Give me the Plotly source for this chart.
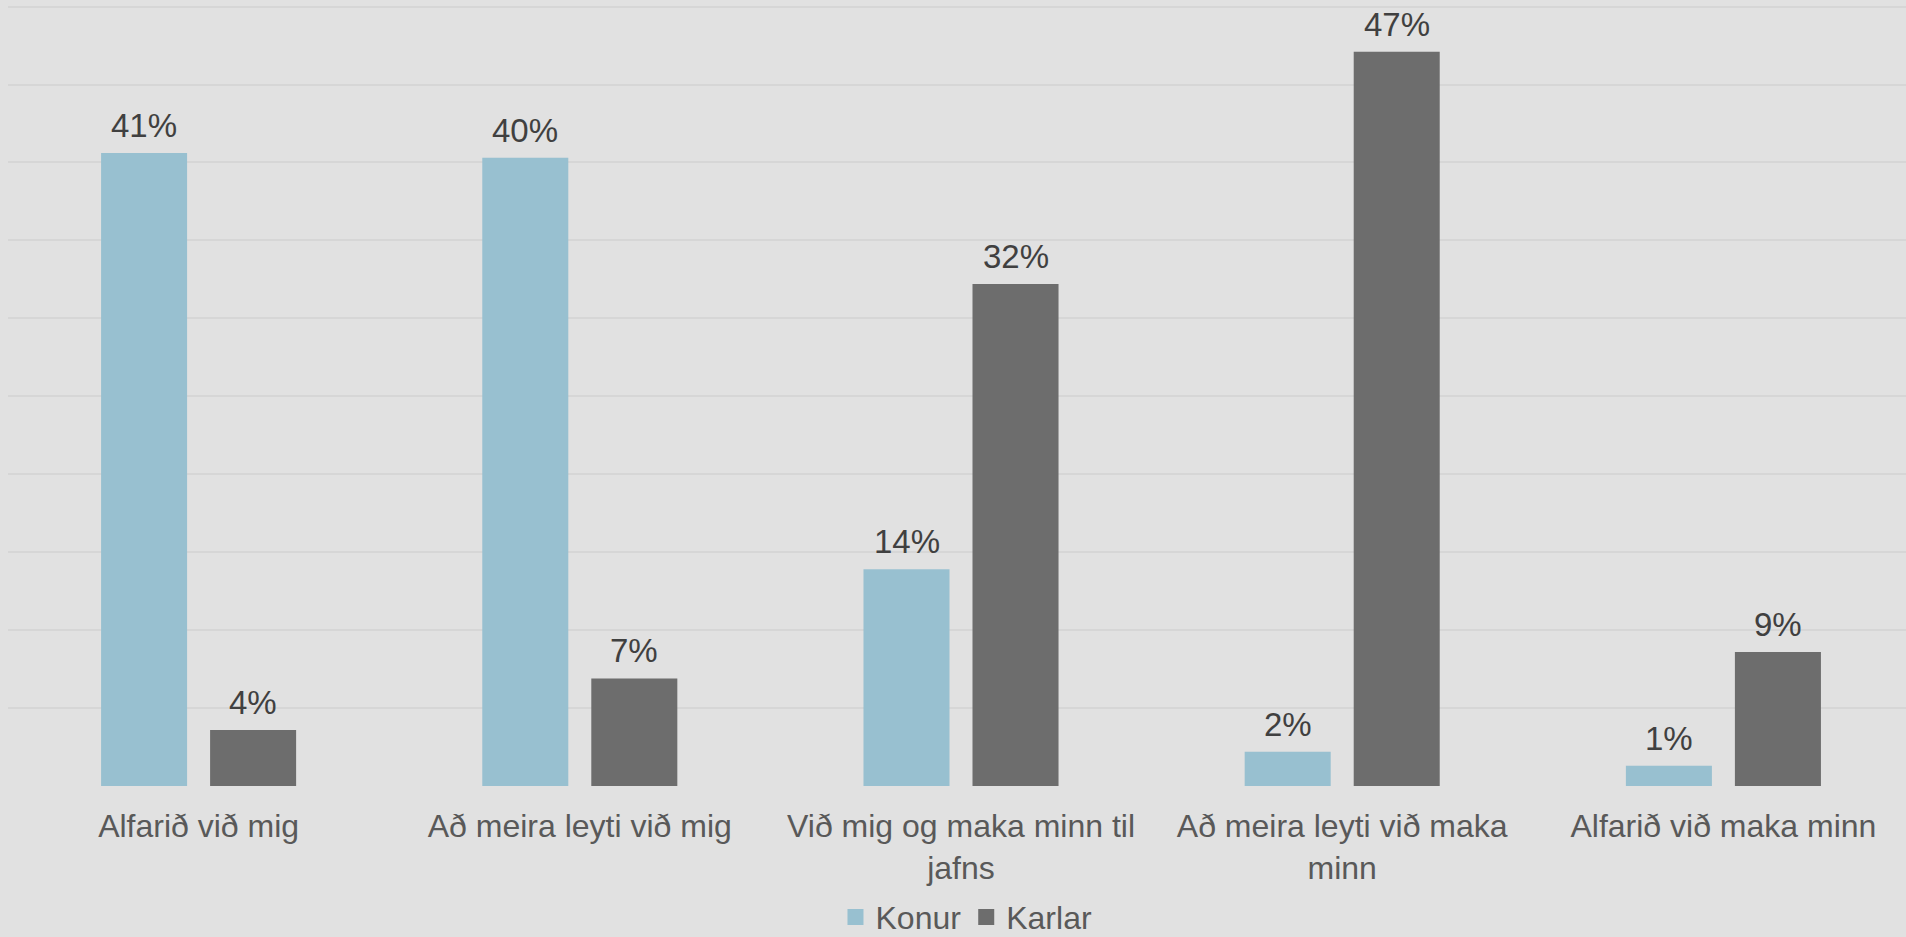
import plotly.graph_objects as go

categories = ["Alfarið við mig", "Að meira leyti við mig",
              "Við mig og maka minn til<br>jafns", "Að meira leyti við maka<br>minn",
              "Alfarið við maka minn"]
konur = [40.6, 40.3, 13.9, 2.2, 1.3]
karlar = [3.6, 6.9, 32.2, 47.1, 8.6]
series_names = ["Konur", "Karlar"]
colors = ["#98c0d0", "#6d6d6d"]

FONT = "Liberation Sans, Arial, sans-serif"
W, H = 1906, 937

fig = go.Figure()
for name, vals, col in zip(series_names, [konur, karlar], colors):
    fig.add_trace(go.Bar(x=categories, y=vals, name=name, marker_color=col,
                         marker_line_width=0, hoverinfo="skip", showlegend=False))
# legend entries with square swatches
for name, col in zip(series_names, colors):
    fig.add_trace(go.Scatter(x=[None], y=[None], mode="markers", name=name,
                             marker=dict(symbol="square", size=16, color=col),
                             showlegend=True))

# data labels above bars
slot_half = 54.5
for vals, sh in [(konur, -slot_half), (karlar, slot_half)]:
    for c, v in zip(categories, vals):
        fig.add_annotation(x=c, y=v, text=f"{round(v):d}%", showarrow=False,
                           xref="x", yref="y", xshift=sh, yanchor="bottom", yshift=7,
                           font=dict(family=FONT, size=33, color="#404040"))

fig.update_layout(
    width=W, height=H,
    margin=dict(l=8, r=0, t=5, b=151, autoexpand=False),
    paper_bgcolor="#e1e1e1", plot_bgcolor="#e1e1e1",
    barmode="group", bargap=0.428, bargroupgap=0.211,
    font=dict(family=FONT, size=32, color="#595959"),
    showlegend=True,
    legend=dict(orientation="h", x=0.505, xanchor="center", y=-0.168, yanchor="middle",
                font=dict(family=FONT, size=32, color="#595959"),
                itemwidth=30, tracegroupgap=0,
                itemsizing="trace", traceorder="normal", bgcolor="rgba(0,0,0,0)"),
    xaxis=dict(range=[-0.5, 4.479], showgrid=False, showline=False, zeroline=False,
               ticks="outside", ticklen=12, tickcolor="rgba(0,0,0,0)", automargin=False,
               tickfont=dict(family=FONT, size=32, color="#595959"), fixedrange=True),
    yaxis=dict(range=[0, 50.1], tick0=0, dtick=5, showgrid=True, gridcolor="#d6d6d6", gridwidth=2,
               automargin=False,
               showticklabels=False, zeroline=False, showline=False, fixedrange=True),
)
fig.write_html("out.html", config={"displayModeBar": False},
               post_script="document.body.style.margin='0';document.body.style.overflow='hidden';document.body.style.background='#e1e1e1';")
